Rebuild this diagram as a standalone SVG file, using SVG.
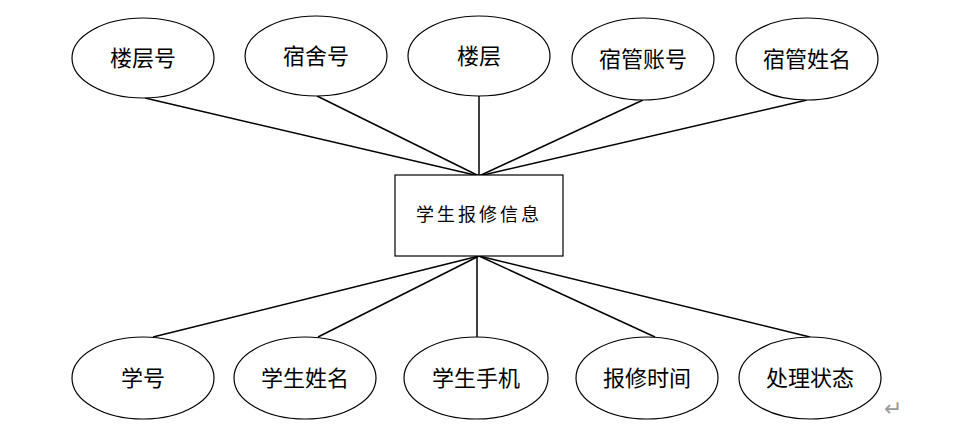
<svg xmlns="http://www.w3.org/2000/svg" width="953" height="443" viewBox="0 0 953 443">
<style>
.e{fill:#fff;stroke:#000;stroke-width:1.2}
.t{font-family:"Liberation Serif","Noto Sans CJK SC",serif;font-size:22px;fill:#000;text-anchor:middle;dominant-baseline:central}
.c{stroke:#000;stroke-width:1.5;fill:none}
</style>
<rect width="953" height="443" fill="#fff"/>
<g id="connectors">
<line class="c" x1="145" y1="98" x2="479" y2="176"/>
<line class="c" x1="317" y1="96" x2="479" y2="176"/>
<line class="c" x1="479" y1="96" x2="479" y2="176"/>
<line class="c" x1="643" y1="100" x2="479" y2="176"/>
<line class="c" x1="807" y1="100" x2="479" y2="176"/>
<line class="c" x1="479" y1="256" x2="153" y2="337"/>
<line class="c" x1="479" y1="256" x2="318" y2="337"/>
<line class="c" x1="477" y1="256" x2="477" y2="337"/>
<line class="c" x1="479" y1="256" x2="655" y2="337"/>
<line class="c" x1="479" y1="256" x2="810" y2="337"/>
</g>
<g id="n-louceng-hao"><ellipse class="e" cx="143" cy="58" rx="71" ry="40"/><text class="t" x="143" y="58">楼层号</text></g>
<g id="n-sushe-hao"><ellipse class="e" cx="316" cy="56" rx="71" ry="40"/><text class="t" x="316" y="56">宿舍号</text></g>
<g id="n-louceng"><ellipse class="e" cx="479" cy="56" rx="71" ry="40"/><text class="t" x="479" y="56">楼层</text></g>
<g id="n-suguan-zhanghao"><ellipse class="e" cx="643" cy="59" rx="71" ry="41"/><text class="t" x="643" y="59">宿管账号</text></g>
<g id="n-suguan-xingming"><ellipse class="e" cx="807" cy="59" rx="71" ry="41"/><text class="t" x="807" y="59">宿管姓名</text></g>
<g id="n-center"><rect x="395" y="175" width="168" height="81" fill="#fff" stroke="#000" stroke-width="1.2"/><text class="t" x="479" y="215" style="font-size:18px;letter-spacing:3px">学生报修信息</text></g>
<g id="n-xuehao"><ellipse class="e" cx="143" cy="378" rx="71" ry="41"/><text class="t" x="143" y="378">学号</text></g>
<g id="n-xuesheng-xingming"><ellipse class="e" cx="305" cy="378" rx="71" ry="41"/><text class="t" x="305" y="378">学生姓名</text></g>
<g id="n-xuesheng-shouji"><ellipse class="e" cx="476" cy="378" rx="72" ry="41"/><text class="t" x="476" y="378">学生手机</text></g>
<g id="n-baoxiu-shijian"><ellipse class="e" cx="647" cy="378" rx="71" ry="41"/><text class="t" x="647" y="378">报修时间</text></g>
<g id="n-chuli-zhuangtai"><ellipse class="e" cx="810" cy="378" rx="71" ry="41"/><text class="t" x="810" y="378">处理状态</text></g>
<text x="893" y="408" style="font-family:'DejaVu Sans',sans-serif;font-size:22px;fill:#999;text-anchor:middle;dominant-baseline:central">↵</text>
</svg>
